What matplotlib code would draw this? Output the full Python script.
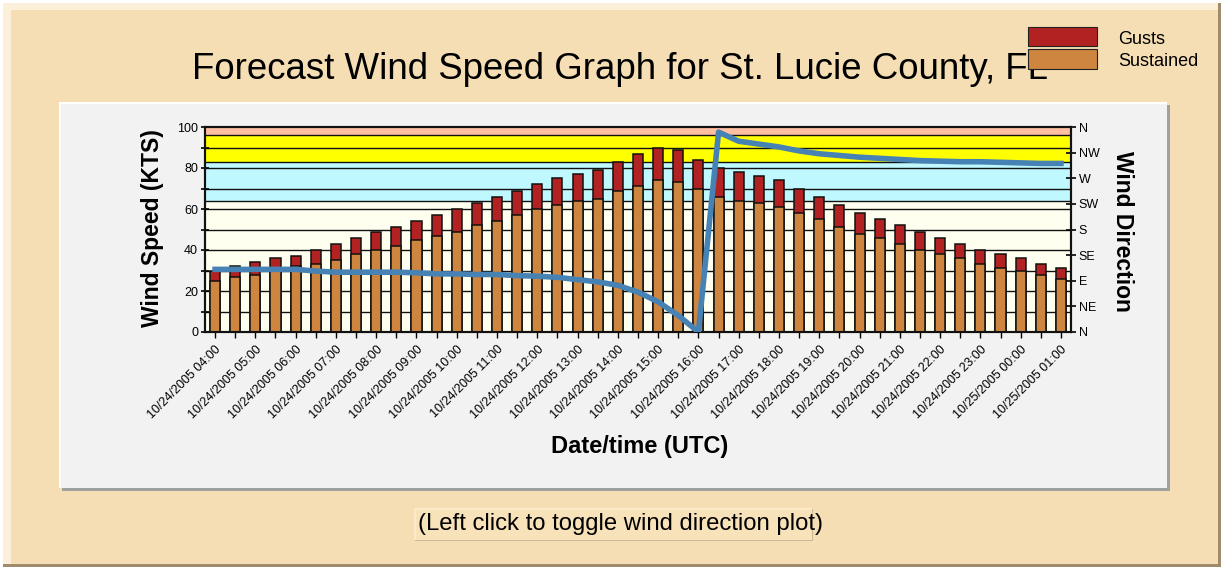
import numpy as np
import pandas as pd
import matplotlib
matplotlib.use('Agg')
import matplotlib.pyplot as plt
from matplotlib.patches import Rectangle

plt.rcParams['font.family'] = ['Liberation Sans', 'DejaVu Sans']

# 数据：每半小时一个预报值
times = pd.date_range('2005-10-24 04:00', periods=43, freq='30min')
tick_labels = [t.strftime('%m/%d/%Y %H:%M') for t in times]
sustained = [25, 27, 28, 31, 32, 33, 35, 38, 40, 42, 45, 47, 49, 52, 54, 57, 60, 62, 64, 65, 69, 71,
             74, 73, 70, 66, 64, 63, 61, 58, 55, 51, 48, 46, 43, 40, 38, 36, 33, 31, 30, 28, 26]
gusts = [30, 32, 34, 36, 37, 40, 43, 46, 49, 51, 54, 57, 60, 63, 66, 69, 72, 75, 77, 79, 83, 87,
         90, 89, 84, 80, 78, 76, 74, 70, 66, 62, 58, 55, 52, 49, 46, 43, 40, 38, 36, 33, 31]
direction = [110, 110, 110, 110, 110, 107, 105, 105, 105, 105, 104, 102, 102, 101, 101, 99, 98, 96,
             92, 88, 82, 70, 53, 29, 0, 351, 335, 330, 325, 318, 313, 310, 307, 305, 303, 301, 300,
             299, 299, 298, 297, 296, 296]
dir_ticks = [0, 45, 90, 135, 180, 225, 270, 315, 360]
dir_labels = ['N', 'NE', 'E', 'SE', 'S', 'SW', 'W', 'NW', 'N']
# 风速等级色带 (下限, 上限, 颜色)
bands = [(0, 64, '#FFFFF0'), (64, 83, '#C0F8FF'), (83, 96, '#FFFF00'), (96, 100, '#FFBFA0')]

W, H = 1223, 567
fig = plt.figure(figsize=(W / 100, H / 100), dpi=100, facecolor='white')


def rect(x0, y0, x1, y1, **kw):
    # 像素坐标(左上原点) -> figure坐标
    r = Rectangle((x0 / W, 1 - y1 / H), (x1 - x0) / W, (y1 - y0) / H,
                  transform=fig.transFigure, **kw)
    fig.patches.append(r)
    return r


def ftext(x, y, s, **kw):
    return fig.text(x / W, 1 - y / H, s, **kw)


# 外框和内框
rect(3, 3, 1221, 567, facecolor='#A08C6C', edgecolor='none', zorder=-20)
rect(3, 3, 1218, 564, facecolor='#FDF0DA', edgecolor='none', zorder=-19)
rect(11, 10, 1218, 564, facecolor='#F5DEB3', edgecolor='none', zorder=-18)
rect(62, 105, 1170, 491, facecolor='#A0A0A0', edgecolor='none', zorder=-17)
rect(59, 102, 1167, 488, facecolor='white', edgecolor='none', zorder=-16)
rect(61, 104, 1167, 488, facecolor='#F2F2F2', edgecolor='none', zorder=-15)

# 标题和图例
ftext(620, 79, 'Forecast Wind Speed Graph for St. Lucie County, FL', fontsize=26.4,
      ha='center', va='baseline', zorder=3)
rect(1028, 27, 1097, 46, facecolor='#B22222', edgecolor='#222222', lw=0.8, zorder=5)
rect(1028, 49, 1097, 69, facecolor='#CD853F', edgecolor='#222222', lw=0.8, zorder=5)
ftext(1118, 40, 'Gusts', fontsize=13, va='center', zorder=6)
ftext(1118, 62, 'Sustained', fontsize=13, va='center', zorder=6)

# 主图
ax = fig.add_axes([205 / W, 1 - 332 / H, 866 / W, 205 / H])
x = np.arange(len(times))
for lo, hi, c in bands:
    ax.axhspan(lo, hi, color=c, zorder=0, lw=0)
for yv in list(range(10, 100, 10)) + [b[0] for b in bands[1:]]:
    ax.axhline(yv, color='#111111', lw=1.0, zorder=1)
ax.bar(x, gusts, width=0.5, color='#B22222', edgecolor='#111111', lw=1.1, zorder=2)
ax.bar(x, sustained, width=0.5, color='#CD853F', edgecolor='#111111', lw=1.1, zorder=3)
ax.set_xlim(-0.5, len(times) - 0.5)
ax.set_ylim(0, 100)
ax.set_yticks(range(0, 101, 20))
ax.set_yticks(range(10, 100, 20), minor=True)
ax.tick_params(axis='y', which='both', direction='inout', length=6, width=1.2, labelsize=9, pad=2)
ax.set_xticks(x)
ax.set_xticklabels([lab if i % 2 == 0 else '' for i, lab in enumerate(tick_labels)],
                   rotation=45, ha='right', rotation_mode='anchor', fontsize=9)
ax.tick_params(axis='x', direction='out', length=4, width=1.0, pad=4)
for s in ax.spines.values():
    s.set_color('#111111')
    s.set_linewidth(1.5)

# 风向曲线 (右轴)
ax2 = ax.twinx()
ax2.plot(x, direction, color='#4682B4', lw=4.0, solid_joinstyle='round', zorder=5)
ax2.set_ylim(0, 360)
ax2.set_yticks(dir_ticks)
ax2.set_yticklabels(dir_labels)
ax2.tick_params(axis='y', direction='inout', length=7, width=1.2, labelsize=9, pad=2)
for s in ax2.spines.values():
    s.set_color('#111111')
    s.set_linewidth(1.5)

ftext(153, 228, 'Wind Speed (KTS)', fontsize=16.5, fontweight='bold', rotation=90,
      ha='center', va='center')
ftext(1123, 231, 'Wind Direction', fontsize=16.5, fontweight='bold', rotation=-90,
      ha='center', va='center')
ftext(640, 446, 'Date/time (UTC)', fontsize=17, fontweight='bold', ha='center', va='center')

# 底部按钮
rect(415, 509, 813, 541, facecolor='#C8B898', edgecolor='none', zorder=1)
rect(414, 508, 812, 540, facecolor='#FBE9C8', edgecolor='none', zorder=1)
rect(416, 510, 812, 540, facecolor='#F7E2BA', edgecolor='none', zorder=1)
ftext(620.5, 524, '(Left click to toggle wind direction plot)', fontsize=17.2,
      ha='center', va='center', zorder=3)

plt.savefig('out.png', dpi=100, facecolor=fig.get_facecolor())
